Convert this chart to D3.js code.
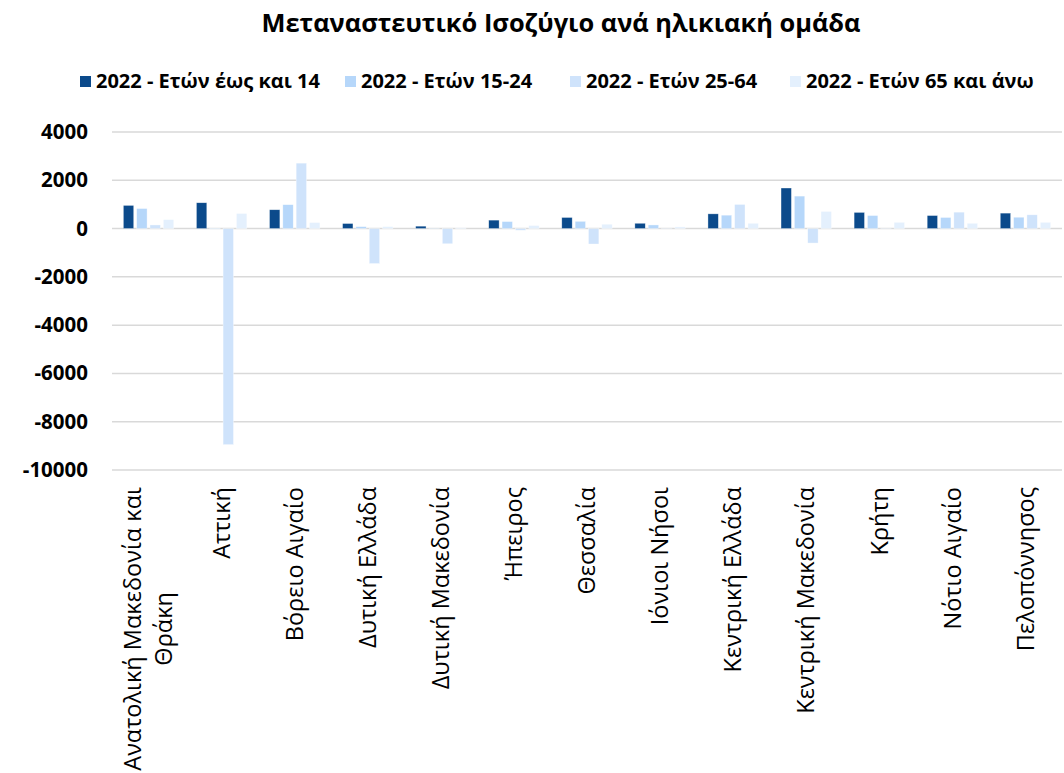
<!DOCTYPE html>
<html>
<head>
<meta charset="utf-8">
<script src="https://cdn.jsdelivr.net/npm/d3@7"></script>
<style>
  body { margin: 0; background: #fff; }
  svg { font-family: "Open Sans", sans-serif; }
</style>
</head>
<body>
<svg width="1064" height="773"></svg>
<script>
// data
var regions = ["Ανατολική Μακεδονία και\nΘράκη", "Αττική", "Βόρειο Αιγαίο", "Δυτική Ελλάδα",
  "Δυτική Μακεδονία", "Ήπειρος", "Θεσσαλία", "Ιόνιοι Νήσοι", "Κεντρική Ελλάδα",
  "Κεντρική Μακεδονία", "Κρήτη", "Νότιο Αιγαίο", "Πελοπόννησος"];
var seriesNames = ["2022 - Ετών έως και 14", "2022 - Ετών 15-24", "2022 - Ετών 25-64", "2022 - Ετών 65 και άνω"];
var age0_14  = [960, 1070, 780, 210, 100, 350, 460, 220, 610, 1680, 670, 540, 640];
var age15_24 = [830, -20, 990, 80, 10, 290, 300, 150, 555, 1345, 540, 460, 470];
var age25_64 = [150, -8950, 2710, -1450, -630, -70, -640, 10, 1000, -600, 10, 680, 570];
var age65    = [370, 625, 250, 80, 30, 125, 180, 70, 220, 710, 260, 220, 260];
var yTicks = [4000, 2000, 0, -2000, -4000, -6000, -8000, -10000];
var colors = ["#0b4a8b", "#b6d7fa", "#cfe3fb", "#e4f0fd"];

var series = [age0_14, age15_24, age25_64, age65];

var svg = d3.select("svg"),
    plotLeft = 112, plotRight = 1062, plotTop = 132, plotBottom = 470;

var x0 = d3.scaleBand()
    .domain(d3.range(regions.length))
    .range([plotLeft, plotRight])
    .paddingInner(0.27)
    .paddingOuter(0.135);

var x1 = d3.scaleBand()
    .domain(d3.range(series.length))
    .range([0, x0.bandwidth()])
    .paddingInner(0.22)
    .paddingOuter(0.11);

var y = d3.scaleLinear()
    .domain([-10000, 4000])
    .range([plotBottom, plotTop]);

// title
svg.append("text")
    .attr("x", 561)
    .attr("y", 32)
    .attr("text-anchor", "middle")
    .style("font-size", "25.4px")
    .style("font-weight", "bold")
    .text("Μεταναστευτικό Ισοζύγιο ανά ηλικιακή ομάδα");

// gridlines
svg.append("g")
  .selectAll("line")
  .data(yTicks).enter()
  .append("line")
    .attr("x1", plotLeft)
    .attr("x2", plotRight)
    .attr("y1", function(d) { return y(d); })
    .attr("y2", function(d) { return y(d); })
    .attr("stroke", "#d9d9d9")
    .attr("stroke-width", 1.5);

// y axis labels (plain hyphen for negatives, like the original)
var yAxis = svg.append("g")
    .attr("transform", "translate(" + (plotLeft - 10) + ",0)")
    .call(d3.axisLeft(y).tickValues(yTicks).tickSize(0).tickPadding(14)
      .tickFormat(function(d) { return String(d); }));
yAxis.select(".domain").remove();
yAxis.selectAll("text")
    .style("font-family", "Open Sans, sans-serif")
    .style("font-size", "20.5px")
    .style("font-weight", "bold")
    .attr("fill", "#000");

// bars
var groups = svg.append("g")
  .selectAll("g")
  .data(regions).enter()
  .append("g")
    .attr("transform", function(d, i) { return "translate(" + x0(i) + ",0)"; });

groups.selectAll("rect")
    .data(function(d, i) { return series.map(function(s, k) { return {k: k, v: s[i]}; }); })
    .enter().append("rect")
    .attr("x", function(d) { return x1(d.k); })
    .attr("width", x1.bandwidth())
    .attr("y", function(d) { return y(Math.max(0, d.v)); })
    .attr("height", function(d) { return Math.abs(y(d.v) - y(0)); })
    .attr("fill", function(d) { return colors[d.k]; })
    .attr("stroke", "#fff")
    .attr("stroke-opacity", 0.6)
    .attr("stroke-width", 0.6);

// x labels, rotated, multi-line centred
var lineH = 31;
var xLabels = svg.append("g")
  .selectAll("text")
  .data(regions).enter()
  .append("text")
    .style("font-size", "23.5px")
    .attr("text-anchor", "middle")
    .each(function(d) {
      var lines = d.split("\n"), t = d3.select(this);
      lines.forEach(function(l, j) {
        t.append("tspan")
          .attr("x", 0)
          .attr("y", (j - (lines.length - 1) / 2) * lineH)
          .attr("dy", "0.35em")
          .text(l);
      });
    });

xLabels.attr("transform", function(d, i) {
  var w = 0;
  d3.select(this).selectAll("tspan").each(function() { w = Math.max(w, this.getComputedTextLength()); });
  var cx = x0(i) + x0.bandwidth() / 2;
  return "translate(" + cx + "," + (487 + w / 2) + ") rotate(-90)";
});

// legend
var legendX = [80, 345, 570, 790];
var legend = svg.append("g")
  .selectAll("g")
  .data(seriesNames).enter()
  .append("g")
    .attr("transform", function(d, i) { return "translate(" + legendX[i] + ",76)"; });
legend.append("rect")
    .attr("width", 11)
    .attr("height", 11)
    .attr("fill", function(d, i) { return colors[i]; });
legend.append("text")
    .attr("x", 16)
    .attr("y", 12)
    .style("font-size", "20px")
    .style("font-weight", "bold")
    .text(function(d) { return d; });
</script>
</body>
</html>
